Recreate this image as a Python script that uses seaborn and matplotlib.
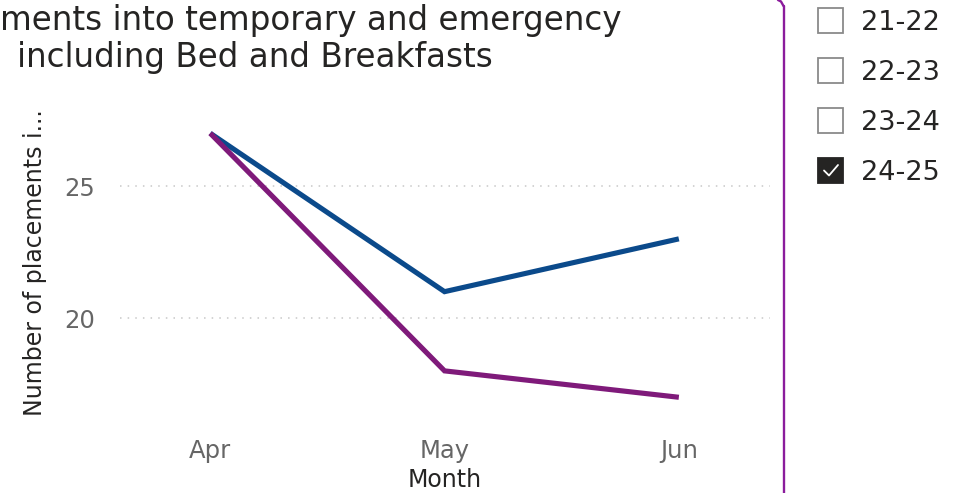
import matplotlib
matplotlib.use("Agg")
import matplotlib.pyplot as plt
from matplotlib.patches import Rectangle
from matplotlib.lines import Line2D
import seaborn as sns
import pandas as pd

# Monthly placements for the two plotted series
months = ["Apr", "May", "Jun"]
series_blue = [27, 21, 23]
series_purple = [27, 18, 17]
series_names = ["Series 1", "Series 2"]
line_colors = ["#0B4A8B", "#7F1A7A"]

# Year slicer entries and which one is selected
slicer_years = ["21-22", "22-23", "23-24", "24-25"]
slicer_checked = [False, False, False, True]

title_lines = ["ments into temporary and emergency", "including Bed and Breakfasts"]
y_title = "Number of placements i..."
x_title = "Month"
y_ticks = [20, 25]

df = pd.DataFrame({
    "Month": months * 2,
    "Value": series_blue + series_purple,
    "Series": [series_names[0]] * len(months) + [series_names[1]] * len(months),
})
df["pos"] = df["Month"].map({m: i for i, m in enumerate(months)})

sns.set_theme(style="white")
plt.rcParams["font.family"] = ["DejaVu Sans"]

W, H = 965, 493
fig = plt.figure(figsize=(W / 100, H / 100), dpi=100)


def fx(x):
    return x / W


def fy(y):
    return 1 - y / H


# plot area in pixel terms: left 120, right 770, top 105, bottom 425
ax = fig.add_axes([fx(120), fy(425), (770 - 120) / W, (425 - 105) / H])
sns.lineplot(data=df, x="pos", y="Value", hue="Series", palette=line_colors,
             linewidth=3.7, legend=False, ax=ax, sort=False)
for ln in ax.get_lines():
    ln.set_solid_capstyle("butt")
    ln.set_solid_joinstyle("miter")

ax.set_xlim(-0.385, 2.389)
ax.set_ylim(15.95, 28.07)
ax.set_xticks(range(len(months)))
ax.set_xticklabels(months)
ax.set_yticks(y_ticks)
ax.tick_params(axis="both", length=0, labelsize=17.5, labelcolor="#666666")
ax.tick_params(axis="y", pad=18)
ax.tick_params(axis="x", pad=10)
for spine in ax.spines.values():
    spine.set_visible(False)
ax.grid(False)
for t in y_ticks:
    ax.axhline(t, color="#C8C8C8", linewidth=1.1, linestyle=(0, (1, 4)), zorder=0)

ax.set_xlabel(x_title, fontsize=17, color="#252423", labelpad=4)
ax.set_ylabel(y_title, fontsize=17, color="#252423")
ax.yaxis.set_label_coords((47 - 120) / 650, (425 - 263) / 320)

# Title, left edge clipped by the canvas
fig.text(fx(0), fy(30), title_lines[0], fontsize=23.5, color="#252423",
         ha="left", va="baseline")
fig.text(fx(17), fy(67), title_lines[1], fontsize=23.5, color="#252423",
         ha="left", va="baseline")

# Slicer border
fig.add_artist(Line2D([fx(783.5), fx(783.5)], [fy(6), fy(H + 2)],
                      color="#8B1C9C", linewidth=1.7, transform=fig.transFigure))
fig.add_artist(Line2D([fx(778), fx(781), fx(783.5)], [fy(0), fy(1.5), fy(6)],
                      color="#8B1C9C", linewidth=1.7, transform=fig.transFigure))

# Slicer items
for i, (yr, chk) in enumerate(zip(slicer_years, slicer_checked)):
    cy = 20 + 50 * i
    box = Rectangle((fx(818), fy(cy + 12.5)), 25 / W, 25 / H,
                    transform=fig.transFigure,
                    facecolor="#252423" if chk else "white",
                    edgecolor="#252423" if chk else "#8A8A8A",
                    linewidth=1.3)
    fig.add_artist(box)
    if chk:
        fig.add_artist(Line2D([fx(824), fx(829), fx(838)],
                              [fy(cy + 0.5), fy(cy + 5.5), fy(cy - 5)],
                              color="white", linewidth=1.3,
                              transform=fig.transFigure))
    fig.text(fx(861), fy(cy + 10), yr, fontsize=19.5, color="#252423",
             ha="left", va="baseline")

fig.savefig("out.png", dpi=100, facecolor="white")
